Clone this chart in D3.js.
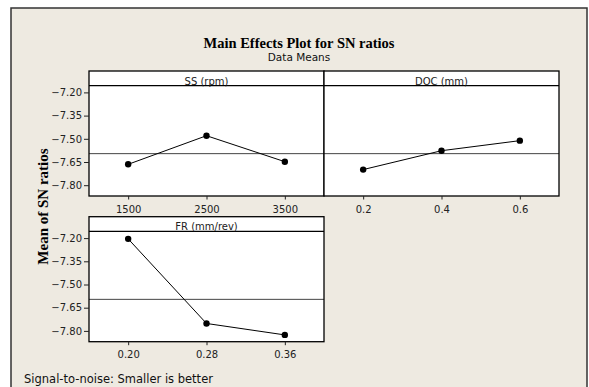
<!DOCTYPE html>
<html>
<head>
<meta charset="utf-8">
<script src="https://cdn.jsdelivr.net/npm/d3@7"></script>
<style>
  body { margin: 0; background: #fff; }
  svg { display: block; }
</style>
</head>
<body>
<script>
var W = 589, H = 387;

// chart data
var factors = ["SS (rpm)", "DOC (mm)", "FR (mm/rev)"];
var ssLevels = ["1500", "2500", "3500"];
var docLevels = ["0.2", "0.4", "0.6"];
var frLevels = ["0.20", "0.28", "0.36"];
var ssMeans = [-7.665, -7.480, -7.648];
var docMeans = [-7.699, -7.577, -7.512];
var frMeans = [-7.205, -7.752, -7.826];
var yTicks = [-7.20, -7.35, -7.50, -7.65, -7.80];

var levels = [ssLevels, docLevels, frLevels];
var means = [ssMeans, docMeans, frMeans];
var grandMean = d3.mean(ssMeans.concat(docMeans, frMeans));

var svg = d3.select("body").append("svg")
  .attr("width", W).attr("height", H);

// beige frame
svg.append("rect")
  .attr("x", 11).attr("y", 8)
  .attr("width", 576).attr("height", 400)
  .attr("fill", "#eeeae1")
  .attr("stroke", "#333").attr("stroke-width", 1.5);

svg.append("text")
  .attr("x", 299).attr("y", 48)
  .attr("text-anchor", "middle")
  .style("font-family", "'Liberation Serif', serif")
  .style("font-weight", "bold")
  .style("font-size", "14.5px")
  .text("Main Effects Plot for SN ratios");

svg.append("text")
  .attr("x", 299).attr("y", 61)
  .attr("text-anchor", "middle")
  .style("font-family", "'DejaVu Sans', sans-serif")
  .style("font-size", "10.5px")
  .attr("fill", "#111")
  .text("Data Means");

svg.append("text")
  .attr("transform", "translate(47.5,206.5) rotate(-90)")
  .attr("text-anchor", "middle")
  .style("font-family", "'Liberation Serif', serif")
  .style("font-weight", "bold")
  .style("font-size", "15px")
  .text("Mean of SN ratios");

svg.append("text")
  .attr("x", 24).attr("y", 383)
  .style("font-family", "'DejaVu Sans', sans-serif")
  .style("font-size", "11.5px")
  .attr("fill", "#111")
  .text("Signal-to-noise: Smaller is better");

// panel layout
var pw = 235, ph = 125, headH = 14.6;
var px0 = 89, py0 = 71, rowStep = 145.7;

var y = d3.scaleLinear().domain([-7.20, -7.80]).range([21.4, 114.2]);

factors.forEach(function(name, i) {
  var col = i % 2, row = Math.floor(i / 2);
  var g = svg.append("g")
    .attr("transform", "translate(" + (px0 + col * pw) + "," + (py0 + row * rowStep) + ")");

  var x = d3.scalePoint().domain(levels[i]).range([0, pw]).padding(0.5);

  g.append("rect")
    .attr("width", pw).attr("height", ph)
    .attr("fill", "#fff");

  // mean reference line
  g.append("line")
    .attr("x1", 0).attr("x2", pw)
    .attr("y1", y(grandMean)).attr("y2", y(grandMean))
    .attr("stroke", "#444").attr("stroke-width", 1);

  var pts = levels[i].map(function(l, k) { return [x(l), y(means[i][k])]; });

  g.append("path")
    .attr("d", d3.line()(pts))
    .attr("fill", "none")
    .attr("stroke", "#000").attr("stroke-width", 1);

  g.selectAll("circle.pt").data(pts).enter()
    .append("circle")
    .attr("class", "pt")
    .attr("cx", function(d) { return d[0]; })
    .attr("cy", function(d) { return d[1]; })
    .attr("r", 3.2)
    .attr("fill", "#000");

  // header strip
  g.append("rect")
    .attr("width", pw).attr("height", headH)
    .attr("fill", "#fff");
  g.append("line")
    .attr("x1", 0).attr("x2", pw)
    .attr("y1", headH).attr("y2", headH)
    .attr("stroke", "#000").attr("stroke-width", 1.3);
  g.append("text")
    .attr("x", pw / 2).attr("y", headH - 1)
    .attr("text-anchor", "middle")
    .style("font-family", "'DejaVu Sans', sans-serif")
    .style("font-size", "10px")
    .attr("fill", "#222")
    .text(name);

  g.append("rect")
    .attr("width", pw).attr("height", ph)
    .attr("fill", "none")
    .attr("stroke", "#000").attr("stroke-width", 1.3);

  var xa = g.append("g")
    .attr("transform", "translate(0," + ph + ")")
    .call(d3.axisBottom(x).tickSize(3.5).tickPadding(6));
  xa.select(".domain").remove();

  if (col === 0) {
    var ya = g.append("g")
      .call(d3.axisLeft(y).tickValues(yTicks).tickFormat(d3.format(".2f")).tickSize(5).tickPadding(2));
    ya.select(".domain").remove();
  }
});

svg.selectAll(".tick text")
  .style("font-family", "'DejaVu Sans', sans-serif")
  .style("font-size", "10px")
  .attr("fill", "#222");
svg.selectAll(".tick line").attr("stroke", "#222");
</script>
</body>
</html>
